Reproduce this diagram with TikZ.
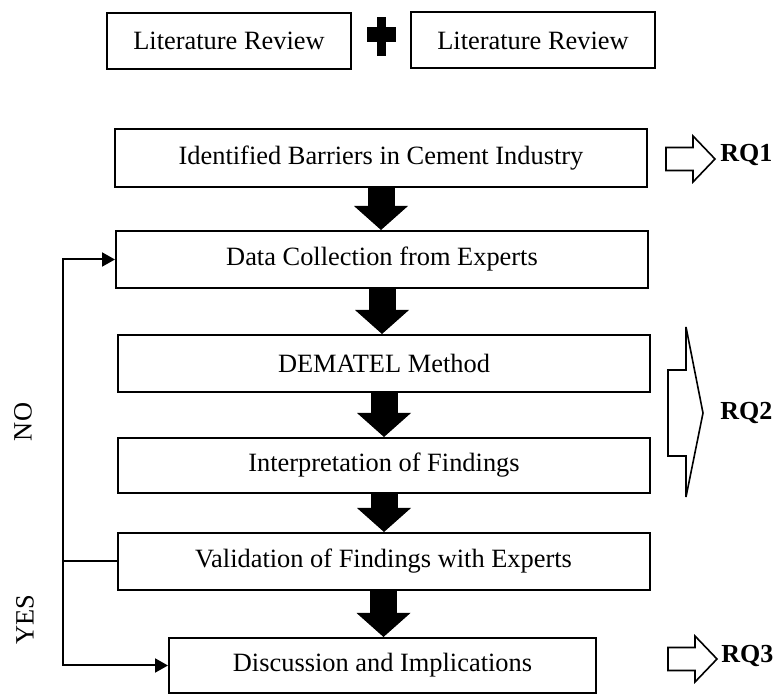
\documentclass[tikz,border=0pt]{standalone}
\usepackage{fontspec}
\setmainfont{Liberation Serif}
\usetikzlibrary{arrows.meta,positioning}

\tikzset{
  box/.style={draw=black,line width=1pt,minimum width=266pt,minimum height=28.5pt,inner sep=0pt},
  litbox/.style={box,minimum width=122pt,minimum height=28pt},
  bigarrow/.style={line width=13.5pt,-{Triangle[width=27pt,length=12pt,line width=0pt]}},
  loopline/.style={line width=1pt},
  looparrow/.style={loopline,-{Triangle[length=6.5pt,width=7pt]}},
  rqtext/.style={font=\fontsize{13}{15}\selectfont\bfseries,anchor=west,inner sep=0pt},
  hollow/.style={draw=black,line width=0.8pt,line join=miter}
}

\begin{document}
\begin{tikzpicture}[x=0.5pt,y=-0.5pt,font=\fontsize{13.2}{15}\selectfont]
\useasboundingbox (0,0) rectangle (778,694);
\node[litbox] (lit1) at (229,41) {Literature Review};
\node[litbox] (lit2) at (533,40.5) {Literature Review};
\fill (377,17) rectangle (386,56);
\fill (367,27) rectangle (396,42);
\node[box,minimum height=29pt] (ident) at (381,158) {Identified Barriers in Cement Industry};
\node[box] (data) at (382,259.5) {Data Collection from Experts};
\node[box] (demat) at (384,363.5) {DEMATEL Method};
\node[box,minimum height=27.5pt] (interp) at (384,465.5) {Interpretation of Findings};
\node[box] (valid) at (383.5,561.5) {Validation of Findings with Experts};
\node[box,minimum width=213.5pt,minimum height=27.5pt] (disc) at (382.5,665.5) {Discussion and Implications};
\draw[bigarrow] (ident.south) -- (ident.south |- data.north);
\draw[bigarrow] (data.south) -- (data.south |- demat.north);
\draw[bigarrow] (demat.south) -- (demat.south |- interp.north);
\draw[bigarrow] (interp.south) -- (interp.south |- valid.north);
\draw[bigarrow] (valid.south) -- (valid.south |- disc.north);
\coordinate (jn) at (63,561.5);
\draw[loopline] (valid.west) -- (jn);
\draw[looparrow] (jn) |- (data.west);
\draw[looparrow] (jn) |- (disc.west);
\node[rotate=90] (no) at (23,422) {NO};
\node[rotate=90] (yes) at (25,620) {YES};
\coordinate (q1) at (666,159);
\coordinate (q3) at (668,659);
\draw[hollow] (q1) ++(0,-11.5) -- ++(27,0) -- ++(0,-11.5) -- ++(22,23) -- ++(-22,23) -- ++(0,-11.5) -- ++(-27,0) -- cycle;
\draw[hollow] (q3) ++(0,-11.5) -- ++(27,0) -- ++(0,-11.5) -- ++(22,23) -- ++(-22,23) -- ++(0,-11.5) -- ++(-27,0) -- cycle;
\draw[hollow] (686,327) -- (703,413) -- (686,497) -- (686,456) -- (668,456) -- (668,370) -- (686,370) -- cycle;
\node[rqtext] (rq1) at (720,155) {RQ1};
\node[rqtext] (rq2) at (720,413) {RQ2};
\node[rqtext] (rq3) at (721,656) {RQ3};
\end{tikzpicture}
\end{document}
